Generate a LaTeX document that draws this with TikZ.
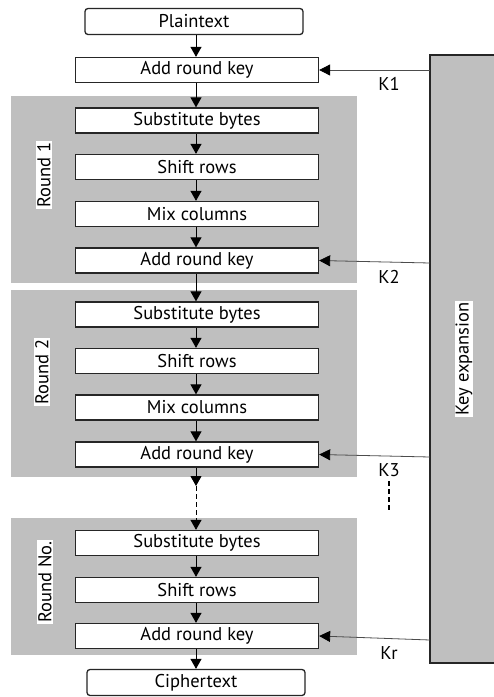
\documentclass[tikz,border=0pt]{standalone}
\usepackage{fontspec}
\setmainfont{PT Sans}
\usetikzlibrary{arrows.meta}
\begin{document}
\begin{tikzpicture}[x=1pt,y=-1pt,
  every node/.style={font=\fontsize{18.5}{20}\selectfont},
  stage/.style={draw=black!85, line width=1.3pt, fill=white, minimum width=243pt, minimum height=25pt, inner sep=0pt},
  io/.style={stage, rounded corners=3pt, minimum width=218pt, minimum height=26pt},
  panel/.style={fill=black!25, draw=none},
  roundlbl/.style={fill=white, rotate=90, inner sep=1pt},
  flow/.style={line width=1pt, -{Triangle[length=10pt,width=11pt]}},
  keyarrow/.style={draw=black!70, line width=0.8pt, -{Triangle[length=11pt,width=11pt,fill=black,color=black]}},
  keylbl/.style={inner sep=0pt}
]
\useasboundingbox (0,0) rectangle (494,697);
\fill[white] (0,0) rectangle (494,697);
% panels
\node[panel, minimum width=346pt, minimum height=187pt, inner sep=0pt] (p1) at (184,189.5) {};
\node[panel, minimum width=346pt, minimum height=187pt, inner sep=0pt] (p2) at (184,383.5) {};
\node[panel, minimum width=346pt, minimum height=137pt, inner sep=0pt] (p3) at (184,586.5) {};
% key expansion
\fill[black!25] (430,55) rectangle (500,663);
\draw[line width=1.3pt, black!85] (500,55) -- (430,55) -- (430,663) -- (500,663);
\node[roundlbl] (ke) at (464,359) {Key expansion};
\coordinate (k1) at (430,70);
\coordinate (k2) at (430,263);
\coordinate (k3) at (430,457);
\coordinate (kr) at (430,640);
% round labels
\node[roundlbl] (r1) at (44,175) {Round 1};
\node[roundlbl] (r2) at (42,372) {Round 2};
\node[roundlbl] (rn) at (45,582) {Round No.};
% stages
\node[io] (plain) at (194,21.5) {Plaintext};
\node[stage] (ark0) at (197,70) {Add round key};
\node[stage] (sb1) at (197,120.5) {Substitute bytes};
\node[stage] (sr1) at (197,167) {Shift rows};
\node[stage] (mc1) at (197,214) {Mix columns};
\node[stage] (ark1) at (197,260.5) {Add round key};
\node[stage] (sb2) at (197,314.5) {Substitute bytes};
\node[stage] (sr2) at (197,361) {Shift rows};
\node[stage] (mc2) at (197,407.5) {Mix columns};
\node[stage] (ark2) at (197,454.5) {Add round key};
\node[stage] (sbn) at (197,543) {Substitute bytes};
\node[stage] (srn) at (197,590) {Shift rows};
\node[stage] (arkn) at (197,636) {Add round key};
\node[io] (cipher) at (196,682.5) {Ciphertext};
% flow arrows
\draw[flow] (plain.south -| 196,0) -- (ark0.north -| 196,0);
\draw[flow] (ark0.south -| 196,0) -- (sb1.north -| 196,0);
\draw[flow] (sb1.south -| 196,0) -- (sr1.north -| 196,0);
\draw[flow] (sr1.south -| 196,0) -- (mc1.north -| 196,0);
\draw[flow] (mc1.south -| 196,0) -- (ark1.north -| 196,0);
\draw[flow] (ark1.south -| 196,0) -- (sb2.north -| 196,0);
\draw[flow] (sb2.south -| 196,0) -- (sr2.north -| 196,0);
\draw[flow] (sr2.south -| 196,0) -- (mc2.north -| 196,0);
\draw[flow] (mc2.south -| 196,0) -- (ark2.north -| 196,0);
\coordinate (gap) at (196,486);
\draw[flow] (ark2.south -| 196,0) -- (gap);
\draw[flow, dashed, dash pattern=on 5pt off 3pt] (gap) -- (sbn.north -| 196,0);
\draw[flow] (sbn.south -| 196,0) -- (srn.north -| 196,0);
\draw[flow] (srn.south -| 196,0) -- (arkn.north -| 196,0);
\draw[flow] (arkn.south -| 196,0) -- (cipher.north -| 196,0);
% key arrows
\draw[keyarrow] (k1) -- (ark0.east);
\draw[keyarrow] (k2) -- (ark1.east);
\draw[keyarrow] (k3) -- (ark2.east);
\draw[keyarrow] (kr) -- (arkn.east);
\node[keylbl] (lk1) at (389,84) {K1};
\node[keylbl] (lk2) at (389,277) {K2};
\node[keylbl] (lk3) at (389,470) {K3};
\node[keylbl] (lkr) at (389,653) {Kr};
\coordinate (d1) at (389,481);
\coordinate (d2) at (389,511);
\draw[line width=2pt, dash pattern=on 5pt off 3pt] (d1) -- (d2);
\end{tikzpicture}
\end{document}
